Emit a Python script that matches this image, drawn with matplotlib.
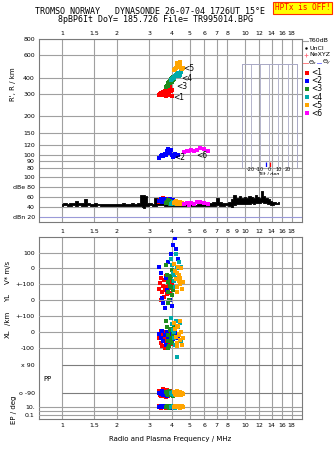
import matplotlib
matplotlib.use('Agg')
import matplotlib.pyplot as plt
from matplotlib.lines import Line2D
from matplotlib.ticker import NullLocator

plt.rcParams['font.family'] = ['DejaVu Sans']
plt.rcParams['font.size'] = 4.5

# frequency ticks (MHz)
freq_ticks = [1, 1.5, 2, 3, 4, 5, 6, 7, 8, 10, 12, 14, 16, 18]
freq_labels = ['1', '1.5', '2', '3', '4', '5', '6', '7', '8', '10', '12', '14', '16', '18']

# range ticks (km)
range_ticks = [800, 600, 400, 300, 200, 150, 120, 100, 90, 80]

# echo classes
class_names = ['<1', '<2', '<3', '<4', '<5', '<6']
class_colors = ['#ff0000', '#0000ff', '#1e8c1e', '#00aaaa', '#ffa500', '#ff00ff']

f1 = [3.38, 3.42, 3.46, 3.50, 3.53, 3.56, 3.60, 3.63, 3.66, 3.69, 3.72, 3.75, 3.78, 3.81, 3.84, 3.87, 3.90, 3.94, 3.98, 4.02]
r1 = [296, 300, 292, 304, 298, 310, 294, 306, 318, 300, 290, 312, 325, 302, 332, 296, 340, 316, 288, 322]
a1 = [50, 53, 49, 55, 52, 57, 51, 54, 56, 50, 53, 55, 49, 52, 54, 48, 51, 50, 47, 49]
v1 = [-130, -95, -200, -60, -150, -110, -180, -75, -140, -120, -50, -165, -90, -135, -105, -70, -155, -85, -125, -100]
xl1 = [-40, -10, -70, 5, -90, -30, -55, -20, -100, -45, 0, -65, -25, -80, -15, -50, -35, -60, -5, -75]
pp1 = [-75, -100, -85, -110, -90, -65, -95, -105, -80, -115, -88, -72, -98, -108, -82, -92, -78, -102, -87, -96]
ep1 = [12, 8, 15, 6, 10, 18, 7, 11, 14, 9, 5, 13, 16, 8, 10, 12, 6, 9, 11, 7]

f2 = [3.40, 3.46, 3.52, 3.58, 3.64, 3.70, 3.76, 3.82, 3.88, 3.94, 4.00, 4.06, 4.14, 4.22, 4.30]
r2 = [96, 98, 101, 99, 103, 100, 108, 112, 104, 110, 101, 97, 103, 99, 100]
a2 = [52, 55, 50, 53, 56, 51, 54, 49, 55, 52, 50, 53, 48, 51, 49]
v2 = [10, -30, -190, -220, -250, -60, -140, 40, -200, 90, -240, 150, 190, 120, 60]
xl2 = [-10, -40, 5, -60, -20, -80, 0, -30, -50, 10, -15, -45, -5, -25, -35]
pp2 = [-85, -95, -78, -100, -90, -82, -105, -88, -92, -80, -98, -86, -94, -84, -90]
ep2 = [9, 13, 7, 11, 15, 8, 10, 12, 6, 14, 9, 11, 8, 10, 7]

f3 = [3.70, 3.74, 3.78, 3.82, 3.86, 3.90, 3.94, 3.98, 4.02, 4.06, 4.10, 3.80, 3.88, 3.96, 4.04]
r3 = [338, 348, 355, 362, 370, 378, 388, 396, 372, 384, 392, 345, 366, 380, 402]
a3 = [48, 50, 52, 47, 49, 51, 46, 50, 48, 47, 49, 53, 45, 48, 46]
v3 = [20, -40, -90, -150, -200, -60, -120, -10, -170, -80, -30, -220, -110, -50, -140]
xl3 = [70, 30, -20, -60, -90, 10, -40, 50, -70, -10, 40, -100, 20, -50, 0]
pp3 = [-80, -95, -88, -102, -76, -92, -98, -84, -90, -106, -86, -94, -80, -100, -90]
ep3 = [10, 14, 8, 12, 6, 11, 16, 9, 13, 7, 10, 12, 8, 15, 9]

f4 = [3.95, 4.00, 4.05, 4.10, 4.15, 4.20, 4.25, 4.30, 4.35, 4.40, 4.45, 4.12]
r4 = [386, 392, 398, 405, 412, 420, 428, 436, 412, 422, 440, 395]
a4 = [46, 48, 50, 47, 49, 45, 48, 46, 50, 47, 45, 49]
v4 = [60, 20, -30, -80, -120, 90, 0, -60, 40, -100, 10, -40]
xl4 = [90, 50, 10, -40, -80, 70, -160, 30, -20, 60, -60, 0]
pp4 = [-88, -96, -82, -100, -92, -86, -104, -90, -80, -94, -98, -85]
ep4 = [11, 8, 14, 10, 6, 12, 9, 15, 7, 11, 13, 8]

f5 = [4.12, 4.16, 4.20, 4.24, 4.28, 4.32, 4.36, 4.40, 4.44, 4.48, 4.52, 4.56, 4.24, 4.38]
r5 = [462, 470, 478, 488, 496, 505, 515, 528, 490, 475, 468, 480, 520, 500]
a5 = [47, 49, 51, 46, 48, 50, 45, 47, 49, 46, 48, 45, 50, 47]
v5 = [30, -20, -70, -120, -150, 10, -40, -100, -60, 0, -130, -90, -30, -80]
xl5 = [60, 20, -30, -70, -90, 40, -10, -50, 70, 0, -80, -40, 30, -20]
pp5 = [-84, -92, -100, -78, -96, -88, -104, -82, -90, -98, -86, -94, -80, -92]
ep5 = [9, 12, 7, 14, 10, 8, 13, 11, 6, 10, 15, 9, 12, 8]

f6 = [4.65, 4.80, 4.95, 5.10, 5.30, 5.50, 5.70, 5.95, 6.30]
r6 = [106, 108, 107, 110, 108, 109, 113, 111, 107]
a6 = [45, 47, 44, 48, 46, 49, 50, 47, 45]

# where each class label sits (freq, range)
label_f = [4.05, 4.12, 4.2, 4.5, 4.6, 5.4]
label_r = [283, 96, 340, 392, 472, 99]

# noise amplitude (dB), low/high per sample
noise_f = [1.00, 1.04, 1.08, 1.12, 1.16, 1.20, 1.25, 1.30, 1.35, 1.40, 1.46, 1.52, 1.58, 1.64, 1.70,
           1.77, 1.84, 1.92, 2.00, 2.08, 2.16, 2.25, 2.34, 2.43, 2.53, 2.63, 2.70, 2.76, 2.82, 2.88,
           2.95, 3.05, 3.15, 3.25, 3.35, 3.50, 3.70, 3.90, 4.10, 4.30, 4.50, 4.75, 5.00, 5.30, 5.60,
           5.90, 6.20, 6.50, 6.80, 7.05, 7.30, 7.60, 7.90, 8.20, 8.50, 8.80, 9.10, 9.40, 9.70, 10.0,
           10.3, 10.6, 10.9, 11.2, 11.5, 11.8, 12.1, 12.4, 12.7, 13.0, 13.3, 13.6, 13.9, 14.2, 14.6,
           15.0, 15.3]
noise_lo = [42, 43, 42, 42, 43, 42, 43, 42, 42, 43, 42, 42, 43, 42, 42,
            41, 42, 42, 42, 41, 42, 42, 41, 42, 42, 42, 42, 40, 38, 42,
            42, 43, 42, 42, 43, 43, 42, 42, 42, 41, 42, 41, 42, 41, 42,
            41, 42, 42, 42, 43, 42, 42, 43, 42, 40, 44, 46, 45, 45, 46,
            45, 46, 47, 46, 47, 48, 47, 49, 48, 47, 46, 45, 44, 44, 45,
            46, 46]
noise_hi = [46, 47, 45, 48, 47, 51, 48, 47, 56, 47, 46, 47, 46, 45, 46,
            45, 46, 45, 46, 45, 47, 46, 45, 47, 46, 48, 64, 63, 64, 62,
            47, 48, 46, 58, 48, 49, 48, 47, 46, 45, 45, 45, 46, 44, 45,
            45, 46, 48, 50, 57, 49, 47, 48, 50, 55, 64, 58, 62, 57, 60,
            58, 62, 60, 57, 63, 60, 58, 72, 62, 58, 57, 56, 52, 50, 49,
            48, 49]

tilt_vals = [1, -4]
tilt_colors = ['#ff0000', '#0000ff']

W, H = 335, 451
GRID = '#a0a0a0'
GLW = 0.8
SPINE = '#7a7a7a'


def box(x0, y0, x1, y1):
    return [x0 / W, 1 - y1 / H, (x1 - x0) / W, (y1 - y0) / H]


def fx(x):
    return x / W


def fy(y):
    return 1 - y / H


def freq_axis(ax):
    ax.set_xscale('log')
    ax.set_xlim(0.75, 20.5)
    ax.set_xticks(freq_ticks, freq_labels)
    ax.xaxis.set_minor_locator(NullLocator())
    ax.tick_params(which='both', length=0)
    for s in ax.spines.values():
        s.set_color(SPINE)
        s.set_linewidth(0.8)


def vgrid(ax):
    for t in freq_ticks:
        ax.axvline(t, color=GRID, lw=GLW, zorder=0.5)


fig = plt.figure(figsize=(3.35, 4.51), dpi=100)
fig.patch.set_facecolor('white')

classes = [(f1, r1, a1), (f2, r2, a2), (f3, r3, a3), (f4, r4, a4), (f5, r5, a5), (f6, r6, a6)]

# ---- range panel
ax1 = fig.add_axes(box(39, 39, 302, 175))
freq_axis(ax1)
vgrid(ax1)
ax1.xaxis.set_ticks_position('top')
ax1.tick_params(axis='x', pad=2.5)
ax1.set_yscale('log')
ax1.set_ylim(70.2, 800)
ax1.set_yticks(range_ticks, [str(t) for t in range_ticks])
ax1.yaxis.set_minor_locator(NullLocator())
ax1.tick_params(axis='y', pad=3)
for t in range_ticks:
    ax1.axhline(t, color=GRID, lw=GLW, zorder=0.5)
ax1.spines['bottom'].set_visible(False)
for (f, r, a), c in zip(classes, class_colors):
    ax1.plot(f, r, 's', color=c, ms=2.2, mew=0)
for lf, lr, nm in zip(label_f, label_r, class_names):
    ax1.text(lf, lr, nm, fontsize=5.5, ha='left', va='center')

# tilt inset
axt = fig.add_axes(box(241.7, 64.3, 296.7, 166.7))
axt.patch.set_visible(False)
axt.set_xlim(-30, 30)
axt.set_ylim(0, 1)
axt.set_xticks([-20, -10, 0, 10, 20], ['-20', '-10', '0', '10', '20'])
axt.set_yticks([])
axt.tick_params(length=0, pad=0.5, labelsize=3.5)
for t in [-20, -10, 0, 10, 20]:
    axt.axvline(t, color='#b4b4cc', lw=0.7)
axt.set_xlabel('Tilt / deg', fontsize=3.5, labelpad=0)
for k, s in axt.spines.items():
    s.set_color('#a8a8c4')
    s.set_linewidth(0.7)
axt.spines['bottom'].set_visible(False)
axt.vlines(tilt_vals, 0.0, 0.05, colors=tilt_colors, lw=0.9)

# ---- amplitude panel
ax2 = fig.add_axes(box(39, 175, 302, 222))
freq_axis(ax2)
vgrid(ax2)
ax2.set_xticks([9], ['9'], minor=True)
ax2.tick_params(axis='x', which='both', pad=5, length=0)
ax2.set_ylim(10, 104)
ax2.set_yticks([100, 80, 60, 40, 20], ['100', 'dBe 80', '60', '40', 'dBn 20'])
ax2.tick_params(axis='y', pad=3)
for t in [100, 80, 60, 40]:
    ax2.axhline(t, color=GRID, lw=GLW, zorder=0.5)
ax2.axhline(20, color='#9a9ad8', lw=0.8)
ax2.spines['top'].set_visible(False)
ax2.fill_between(noise_f, noise_lo, noise_hi, step='mid', color='black', lw=0.6)
for (f, r, a), c in zip(classes, class_colors):
    ax2.plot(f, a, 's', color=c, ms=2.2, mew=0)

# ---- lower panel: V*, YL, XL, PP, EP
lower = box(39, 237, 302, 419.3)
ax3 = fig.add_axes(lower)
freq_axis(ax3)
vgrid(ax3)
ax3.tick_params(axis='x', pad=2.5)
ax3.set_yticks([])


def overlay(ylim, ticks, labels, scale='linear', grid=True):
    a = fig.add_axes(lower, sharex=ax3)
    a.set_yscale(scale)
    a.set_ylim(*ylim)
    a.patch.set_visible(False)
    for s in a.spines.values():
        s.set_visible(False)
    a.set_yticks(ticks, labels)
    a.yaxis.set_minor_locator(NullLocator())
    a.tick_params(axis='x', which='both', bottom=False, labelbottom=False)
    a.tick_params(axis='y', which='both', length=0, pad=3)
    if grid:
        for t in ticks:
            a.axhline(t, color=GRID, lw=GLW, zorder=0.5)
    return a


ax_v = overlay((-958.7, 198.7), [100, 0, -100], ['100', '0', '+-100'])
ax_yl = overlay((-757.5, 400), [0, -100], ['0', '+-100'])
ax_xl = overlay((-554.3, 603.2), [0, -100], ['0', '-100'])
ax_pp = overlay((-255.4, 904.2), [90, -90], ['x 90', 'o -90'], grid=False)
ax_ep = overlay((10 ** -1.93, 10 ** 40.47), [10, 1, 0.1], ['10.', '', '0.1'], scale='log')
ax_pp.hlines([90, -90], 1.0, 20.5, color='#7c7c7c', lw=0.8)

lower_sets = [(f1, v1, xl1, pp1, ep1), (f2, v2, xl2, pp2, ep2), (f3, v3, xl3, pp3, ep3),
              (f4, v4, xl4, pp4, ep4), (f5, v5, xl5, pp5, ep5)]
for (f, v, xl, pp, ep), c in zip(lower_sets, class_colors):
    ax_v.plot(f, v, 's', color=c, ms=2.2, mew=0)
    ax_xl.plot(f, xl, 's', color=c, ms=2.2, mew=0)
    ax_pp.plot(f, pp, 's', color=c, ms=2.2, mew=0)
    ax_ep.plot(f, ep, 's', color=c, ms=2.2, mew=0)

# ---- labels
fig.text(fx(13), fy(84), "R', R / km", rotation=90, ha='center', va='center', fontsize=5)
fig.text(fx(8), fy(272), 'V* m/s', rotation=90, ha='center', va='center', fontsize=5)
fig.text(fx(8), fy(298), 'YL', rotation=90, ha='center', va='center', fontsize=5)
fig.text(fx(8), fy(318), '/km', rotation=90, ha='center', va='center', fontsize=5)
fig.text(fx(8), fy(334), 'XL', rotation=90, ha='center', va='center', fontsize=5)
fig.text(fx(47), fy(379), 'PP', ha='center', va='center', fontsize=5)
fig.text(fx(14), fy(410), 'EP / deg', rotation=90, ha='center', va='center', fontsize=5)
fig.text(fx(170), fy(439), 'Radio and Plasma Frequency / MHz', ha='center', va='center', fontsize=5)

fig.text(fx(150), fy(12), 'TROMSO NORWAY   DYNASONDE 26-07-04 1726UT 15°E',
         family='DejaVu Sans Mono', fontsize=6, ha='center', va='center')
fig.text(fx(155.5), fy(20), '8pBP6It DoY= 185.726 File= TR995014.BPG',
         family='DejaVu Sans Mono', fontsize=6, ha='center', va='center')
fig.text(fx(302.5), fy(8), 'HPTx is OFF!', family='DejaVu Sans Mono', fontsize=5.6,
         color='red', ha='center', va='center',
         bbox=dict(boxstyle='square,pad=0.2', fc='#ffff00', ec='#ff3000', lw=0.8))

# ---- legend at right of range panel
fig.add_artist(Line2D([fx(303), fx(308)], [fy(41)] * 2, color='#a0a0a0', lw=0.8))
fig.text(fx(309), fy(41), 'T60dB', va='center', fontsize=4.5)
fig.add_artist(Line2D([fx(306)], [fy(48.3)], marker='.', ms=1.5, color='black', ls='none'))
fig.text(fx(309), fy(48.3), 'UnCl', va='center', fontsize=4.5)
fig.add_artist(Line2D([fx(306)], [fy(55)], marker='+', ms=3, mew=0.6, color='#ff7080', ls='none'))
fig.text(fx(309), fy(55), 'NeXYZ', va='center', fontsize=4.5)
fig.add_artist(Line2D([fx(303), fx(307.5)], [fy(62.7)] * 2, color='#ff8080', lw=0.7))
fig.text(fx(308.5), fy(62.7), r'$\Theta_x$', va='center', fontsize=4.5)
fig.add_artist(Line2D([fx(316.5), fx(321)], [fy(62.7)] * 2, color='#8080ff', lw=0.7))
fig.text(fx(321.5), fy(62.7), r'$\Theta_y$', va='center', fontsize=4.5)
leg_y = [72.7, 80.7, 89, 97, 105, 113]
for yy, nm, c in zip(leg_y, class_names, class_colors):
    fig.add_artist(Line2D([fx(307.3)], [fy(yy)], marker='s', ms=2.3, mew=0, color=c, ls='none'))
    fig.text(fx(311.5), fy(yy), nm, va='center', fontsize=5.5)

fig.savefig('out.png', dpi=100)
